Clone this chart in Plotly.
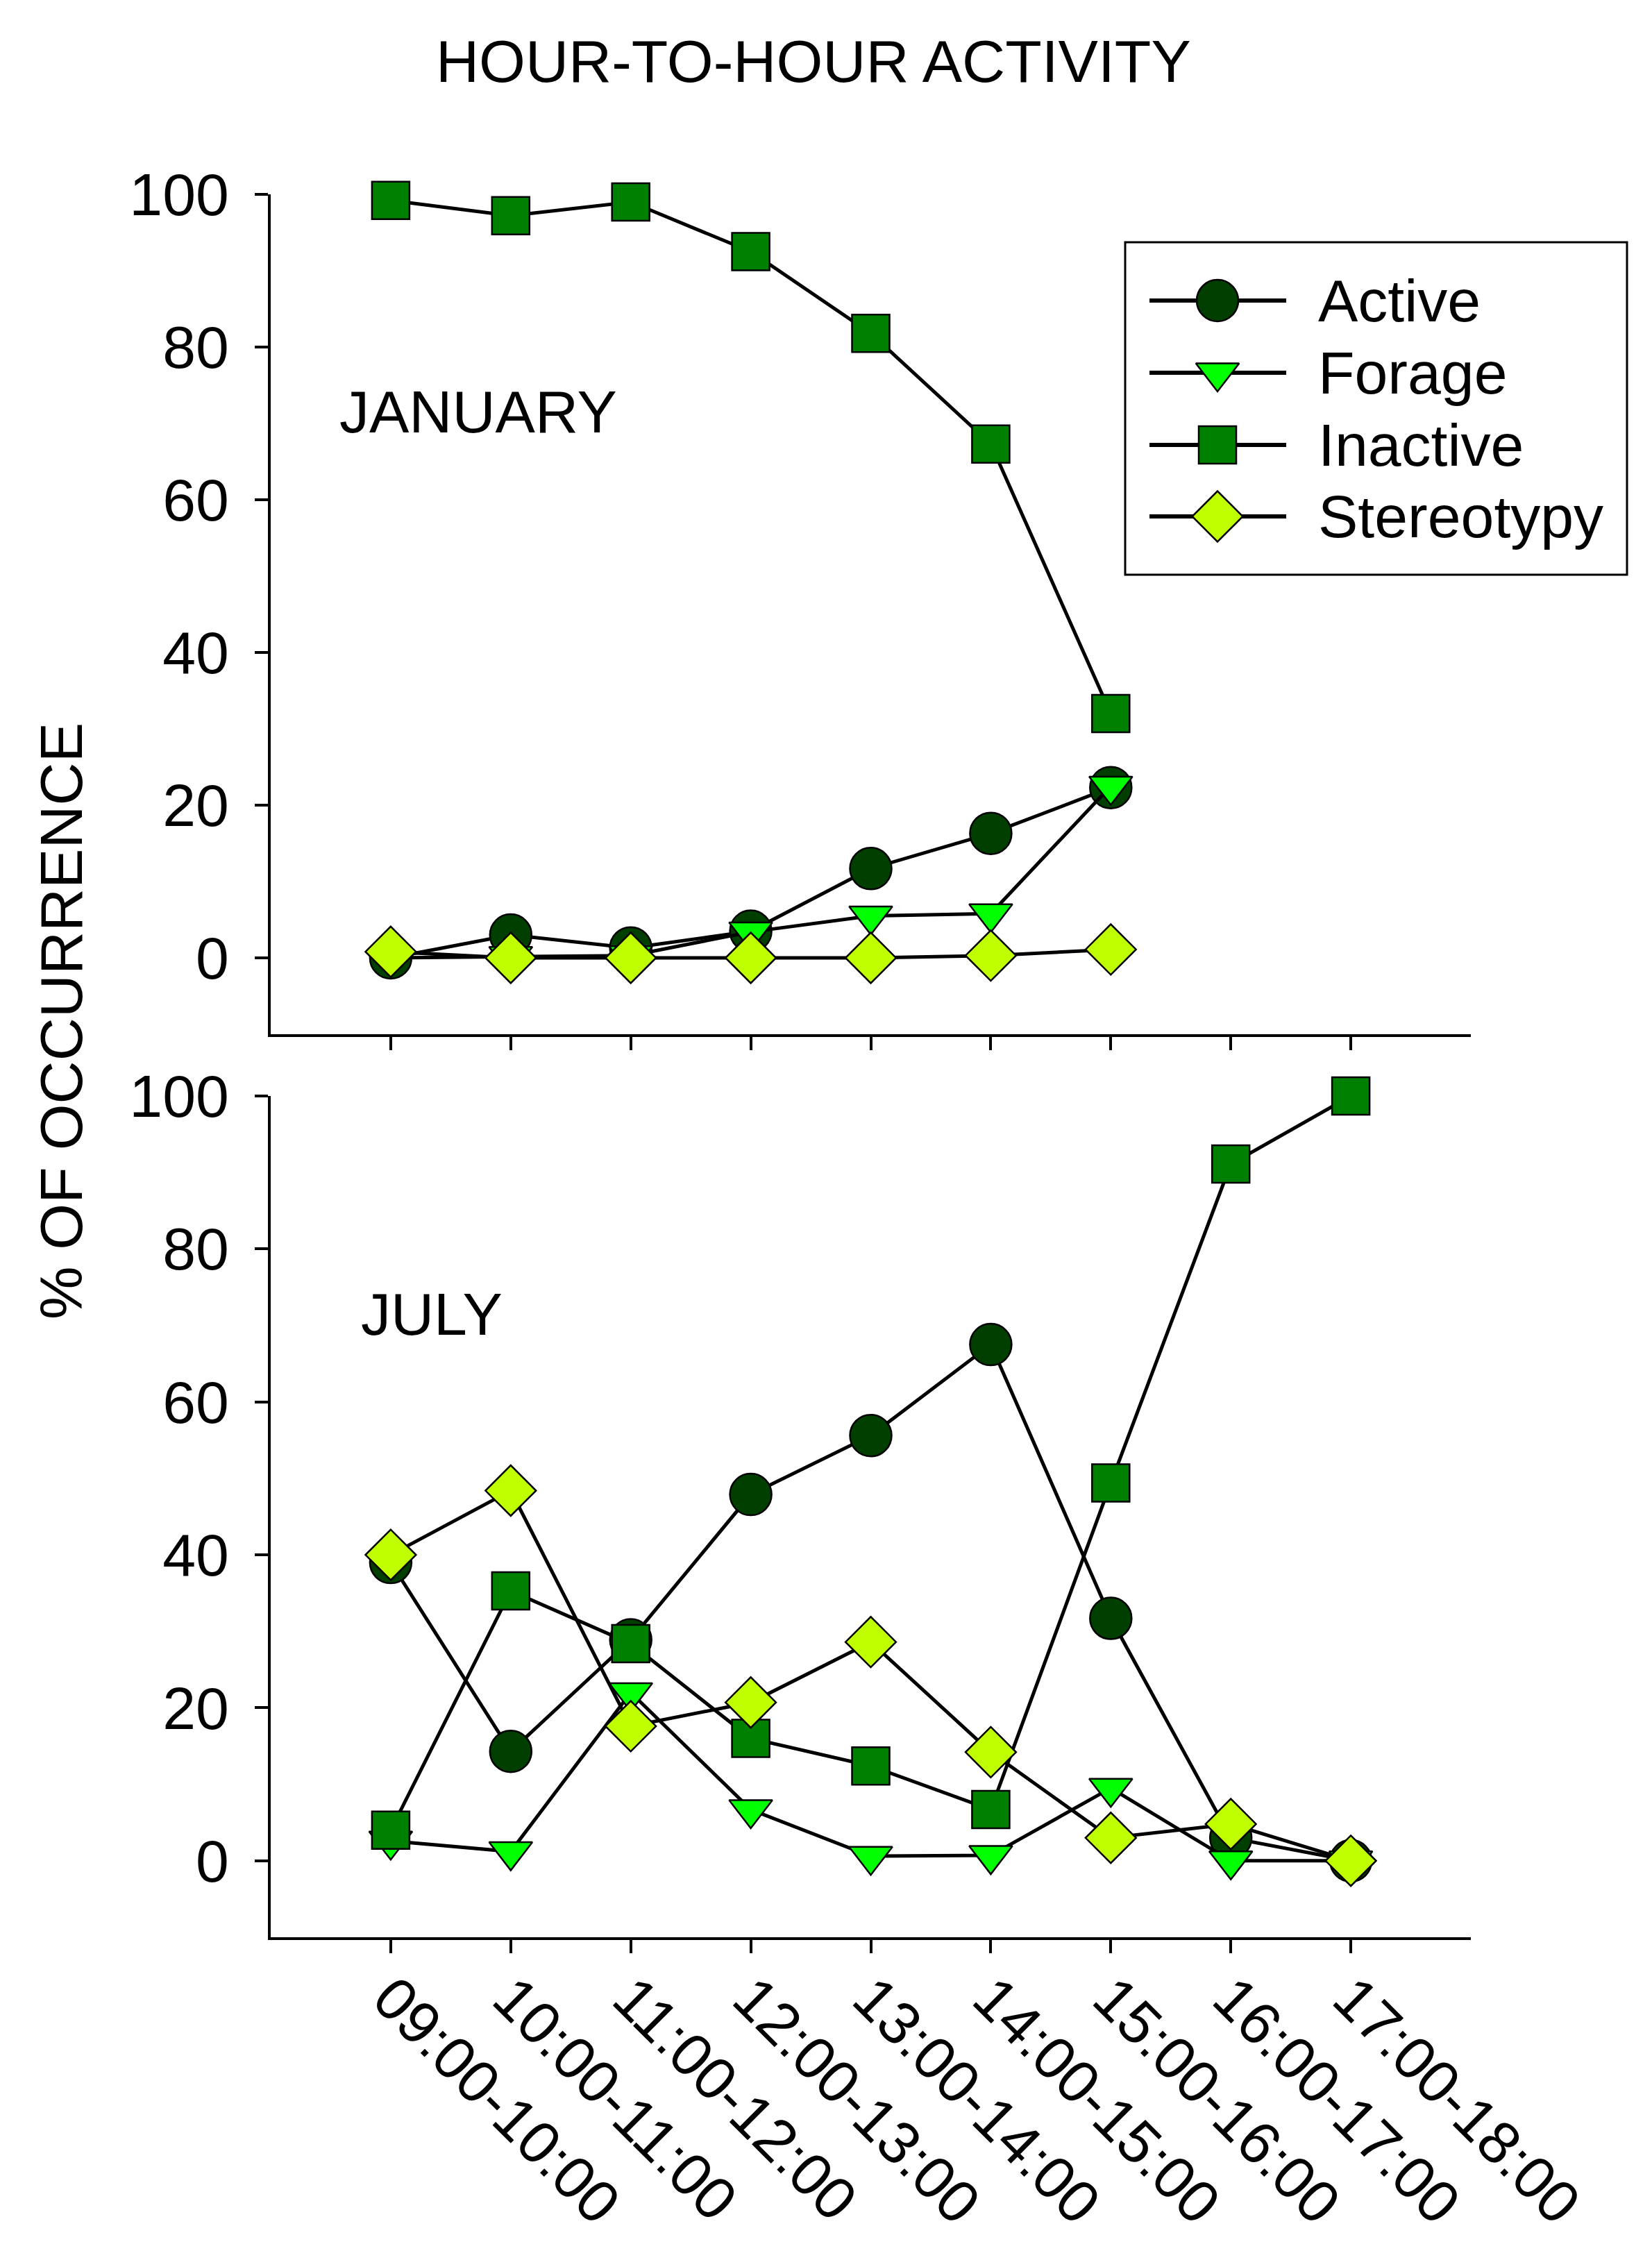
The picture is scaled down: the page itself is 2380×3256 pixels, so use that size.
import plotly.graph_objects as go

W, H = 2380, 3256
OFF = 8  # page body margin shifts the figure by this many pixels
FONT = "Liberation Sans, Arial, sans-serif"

HOURS = ["09:00-10:00", "10:00-11:00", "11:00-12:00", "12:00-13:00", "13:00-14:00",
         "14:00-15:00", "15:00-16:00", "16:00-17:00", "17:00-18:00"]
SERIES = ["Active", "Forage", "Inactive", "Stereotypy"]

# January (observations stop at 15:00-16:00)
jan_active = [0.0, 3.0, 1.3, 3.5, 11.7, 16.3, 22.3]
jan_forage = [0.0, 0.2, 0.3, 3.4, 5.5, 5.8, 22.5]
jan_inactive = [99.2, 97.2, 99.0, 92.5, 81.8, 67.3, 32.0]
jan_stereotypy = [0.8, 0.0, 0.0, 0.0, 0.0, 0.3, 1.1]

# July
jul_active = [39.0, 14.3, 28.9, 47.9, 55.6, 67.5, 31.7, 3.0, 0.0]
jul_forage = [2.6, 1.2, 22.0, 6.7, 0.6, 0.7, 9.5, 0.0, 0.0]
jul_inactive = [4.0, 35.3, 28.4, 16.0, 12.4, 6.7, 49.4, 91.1, 100.0]
jul_stereotypy = [40.0, 48.4, 17.6, 20.7, 28.6, 14.2, 3.0, 4.8, 0.0]

COLORS = {"Active": "#003f00", "Forage": "#00ff00", "Inactive": "#008000", "Stereotypy": "#c0ff00"}
SYMBOLS = {"Active": "circle", "Forage": "triangle-down", "Inactive": "square", "Stereotypy": "diamond"}
SIZES = {"Active": 60, "Forage": 54, "Inactive": 54, "Stereotypy": 56}


def px_x(p):
    return (p - OFF) / W


def px_y(p):
    return 1 - (p - OFF) / H


fig = go.Figure()

panels = [
    ("x", "y", [jan_active, jan_forage, jan_inactive, jan_stereotypy]),
    ("x2", "y2", [jul_active, jul_forage, jul_inactive, jul_stereotypy]),
]
for xa, ya, values in panels:
    for name, vals in zip(SERIES, values):
        fig.add_trace(go.Scatter(
            x=HOURS[:len(vals)], y=vals, name=name, xaxis=xa, yaxis=ya,
            mode="lines+markers", showlegend=False, cliponaxis=False,
            line=dict(color="black", width=5),
            marker=dict(symbol=SYMBOLS[name], size=SIZES[name], color=COLORS[name],
                        line=dict(color="black", width=2.5)),
        ))

# hand-made legend (plotly caps legend marker size), drawn on its own hidden axes
LEG_W, LEG_H = 723, 479
leg_rows = [84, 188, 292, 395]
for name, row in zip(SERIES, leg_rows):
    fig.add_trace(go.Scatter(
        x=[35, 232], y=[row, row], xaxis="x3", yaxis="y3", mode="lines",
        showlegend=False, line=dict(color="black", width=6), hoverinfo="skip",
    ))
    fig.add_trace(go.Scatter(
        x=[133], y=[row], xaxis="x3", yaxis="y3", mode="markers", showlegend=False,
        cliponaxis=False,
        marker=dict(symbol=SYMBOLS[name], size=SIZES[name], color=COLORS[name],
                    line=dict(color="black", width=2.5)),
    ))
    fig.add_annotation(x=276, y=row, xref="x3", yref="y3", text=name, showarrow=False,
                       xanchor="left", yanchor="middle", font=dict(size=86, color="black"))

axis_common = dict(
    showline=True, linecolor="black", linewidth=4, mirror=False, showgrid=False,
    zeroline=False, ticks="outside", ticklen=19, tickwidth=4, tickcolor="black",
    automargin=False, tickfont=dict(size=86, color="black"),
)
xdom = [px_x(390), px_x(2119)]

fig.update_layout(
    width=W, height=H, margin=dict(l=0, r=0, t=0, b=0),
    paper_bgcolor="white", plot_bgcolor="rgba(0,0,0,0)",
    font=dict(family=FONT, color="black", size=86),
    xaxis=dict(axis_common, domain=xdom, anchor="y", type="category",
               categoryarray=HOURS, range=[-1, 9], showticklabels=False),
    yaxis=dict(axis_common, domain=[px_y(1490), px_y(280)], anchor="x",
               range=[-10, 100], tickvals=[0, 20, 40, 60, 80, 100], ticklabelstandoff=20),
    xaxis2=dict(axis_common, domain=xdom, anchor="y2", type="category",
                categoryarray=HOURS, range=[-1, 9], tickangle=45, ticklabelstandoff=-20),
    yaxis2=dict(axis_common, domain=[px_y(2791), px_y(1579)], anchor="x2",
                range=[-10, 100], tickvals=[0, 20, 40, 60, 80, 100], ticklabelstandoff=20),
    xaxis3=dict(domain=[px_x(1621), px_x(2344)], anchor="y3", range=[0, LEG_W],
                visible=False, fixedrange=True),
    yaxis3=dict(domain=[px_y(828), px_y(349)], anchor="x3", range=[LEG_H, 0],
                visible=False, fixedrange=True),
    shapes=[dict(type="rect", xref="paper", yref="paper",
                 x0=px_x(1621), x1=px_x(2344), y0=px_y(828), y1=px_y(349),
                 line=dict(color="black", width=3), fillcolor="rgba(0,0,0,0)")],
    annotations=list(fig.layout.annotations) + [
        dict(text="HOUR-TO-HOUR ACTIVITY", x=px_x(1172), y=px_y(88), xref="paper", yref="paper",
             showarrow=False, xanchor="center", yanchor="middle", font=dict(size=86)),
        dict(text="% OF OCCURRENCE", x=px_x(88), y=px_y(1471), xref="paper", yref="paper",
             showarrow=False, textangle=-90, xanchor="center", yanchor="middle",
             font=dict(size=86)),
        dict(text="JANUARY", x=px_x(487), y=px_y(593), xref="paper", yref="paper",
             showarrow=False, xanchor="left", yanchor="middle", font=dict(size=86)),
        dict(text="JULY", x=px_x(518), y=px_y(1893), xref="paper", yref="paper",
             showarrow=False, xanchor="left", yanchor="middle", font=dict(size=86)),
    ],
)

fig.write_html("out.html")
